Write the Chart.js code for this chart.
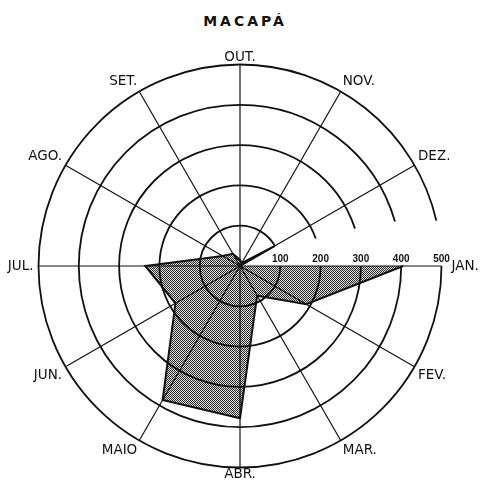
<!DOCTYPE html>
<html>
<head>
<meta charset="utf-8">
<script src="https://cdn.jsdelivr.net/npm/chart.js@4.4.1/dist/chart.umd.min.js"></script>
<style>
  html, body { margin: 0; padding: 0; background: #fff; }
  #wrap { position: relative; width: 487px; height: 481px; }
  #title {
    position: absolute; top: 13px; left: 0; width: 100%;
    text-align: center; font: bold 14px 'DejaVu Sans', sans-serif;
    letter-spacing: 3px; padding-left: 3px; box-sizing: border-box; color: #111;
  }
  canvas { position: absolute; left: 0; top: 0; }
</style>
</head>
<body>
<div id="wrap">
  <div id="title">MACAPÁ</div>
  <canvas id="rainChart" width="487" height="481"></canvas>
</div>
<script>
// ===== DATA =====
const months     = ['JAN.', 'FEV.', 'MAR.', 'ABR.', 'MAIO', 'JUN.', 'JUL.', 'AGO.', 'SET.', 'OUT.', 'NOV.', 'DEZ.'];
const rainfall   = [405, 190, 85, 378, 384, 185, 235, 50, 35, 15, 8, 100];
const tickValues = [100, 200, 300, 400, 500];
// outline returns to the centre along the JAN axis instead of closing DEZ -> JAN
const closingValue = 0;

// ===== STYLE =====
const ringGapDeg = { 100: 30, 200: 20, 300: 18, 400: 16, 500: 13 };
const labelPad   = [10, 4, 4, 0, 4, 4, 5, 4, 4, 0, 4, 4];

// stippled fill like the printed halftone
function makeStipple(ctx) {
  const c = document.createElement('canvas');
  c.width = 2; c.height = 2;
  const g = c.getContext('2d');
  g.fillStyle = '#dcdcdc'; g.fillRect(0, 0, 2, 2);
  g.fillStyle = '#2e2e2e'; g.fillRect(0, 0, 1, 1); g.fillRect(1, 1, 1, 1);
  return ctx.createPattern(c, 'repeat');
}

// rings stop short of the JAN axis on the upper side, ticks sit on the axis
const ringsAndTicks = {
  id: 'ringsAndTicks',
  afterDraw(chart) {
    const s = chart.scales.r;
    const ctx = chart.ctx;
    ctx.save();
    ctx.strokeStyle = '#111';
    ctx.lineWidth = 1.8;
    tickValues.forEach(v => {
      const r = s.getDistanceFromCenterForValue(v);
      ctx.beginPath();
      ctx.arc(s.xCenter, s.yCenter, r, 0, 2 * Math.PI - ringGapDeg[v] * Math.PI / 180);
      ctx.stroke();
    });
    ctx.fillStyle = '#111';
    ctx.font = 'bold 10px "Liberation Sans", sans-serif';
    ctx.textAlign = 'center';
    ctx.textBaseline = 'bottom';
    tickValues.forEach(v => {
      const p = s.getPointPositionForValue(0, v);
      ctx.fillText(String(v), p.x, p.y - 2);
    });
    ctx.restore();
  }
};

const ctx = document.getElementById('rainChart').getContext('2d');
new Chart(ctx, {
  type: 'radar',
  data: {
    labels: months,
    datasets: [{
      label: 'Macapá',
      data: rainfall.concat([closingValue]),
      backgroundColor: makeStipple(ctx),
      borderColor: '#111',
      borderWidth: 2,
      pointRadius: 0,
      fill: 'origin',
      tension: 0
    }]
  },
  options: {
    responsive: false,
    animation: false,
    layout: { padding: { top: 51, bottom: 0, left: 0, right: 0 } },
    plugins: {
      legend: { display: false },
      tooltip: { enabled: false },
      title: { display: false }
    },
    scales: {
      r: {
        min: 0,
        max: 500,
        startAngle: 90,
        ticks: { display: false, stepSize: 100 },
        grid: { display: false, circular: true, z: 1 },
        angleLines: { display: true, color: '#111', lineWidth: 1.2 },
        pointLabels: {
          display: true,
          color: '#111',
          padding: c => labelPad[c.index],
          font: { family: '"DejaVu Sans", sans-serif', size: 13.5, lineHeight: 1 }
        }
      }
    }
  },
  plugins: [ringsAndTicks]
});
</script>
</body>
</html>
